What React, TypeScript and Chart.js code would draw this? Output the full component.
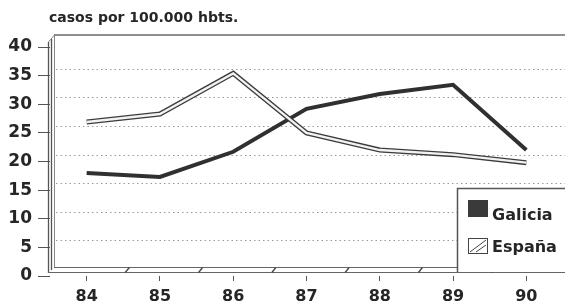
import React, { useEffect, useRef } from "react";
import { Chart, registerables } from "chart.js";

Chart.register(...registerables);

const years = ["84", "85", "86", "87", "88", "89", "90"];
const galicia = [18.0, 17.3, 21.7, 29.2, 31.8, 33.4, 22.0];
const espana = [26.9, 28.3, 35.4, 25.0, 22.0, 21.2, 19.8];
const yTicks = [0, 5, 10, 15, 20, 25, 30, 35, 40];
const titleText = "casos por 100.000 hbts.";
const legendLabels = ["Galicia", "España"];

const FONT = "'DejaVu Sans', 'Liberation Sans', sans-serif";
const INK = "#262626";

const decor = {
  id: "decor",
  beforeDraw(chart: any) {
    const ctx = chart.ctx;
    ctx.save();
    ctx.fillStyle = INK;
    ctx.font = `bold 14px ${FONT}`;
    ctx.textBaseline = "alphabetic";
    ctx.textAlign = "left";
    ctx.fillText(titleText, 49, 22);
    ctx.restore();
  },
  beforeDatasetsDraw(chart: any) {
    const ctx = chart.ctx;
    const ca = chart.chartArea;
    const ys = chart.scales.y;
    const W = chart.width;
    ctx.save();
    // dotted grid on back wall
    ctx.strokeStyle = "#9a9a9a";
    ctx.lineWidth = 1;
    ctx.setLineDash([1.5, 3]);
    for (const v of yTicks) {
      if (v === 0 || v === 40) continue;
      const y = Math.round(ys.getPixelForValue(v) - 7) + 0.5;
      ctx.beginPath();
      ctx.moveTo(56, y);
      ctx.lineTo(W, y);
      ctx.stroke();
    }
    ctx.setLineDash([]);
    // back wall top
    ctx.strokeStyle = "#6a6a6a";
    ctx.lineWidth = 1.5;
    ctx.beginPath();
    ctx.moveTo(54, 35);
    ctx.lineTo(W, 35);
    ctx.stroke();
    // left wall
    ctx.strokeStyle = "#555";
    ctx.lineWidth = 1.3;
    ctx.beginPath();
    ctx.moveTo(48.5, 42);
    ctx.lineTo(48.5, 273);
    ctx.moveTo(51.5, 39);
    ctx.lineTo(51.5, 270);
    ctx.stroke();
    ctx.strokeStyle = "#888";
    ctx.lineWidth = 1;
    ctx.beginPath();
    ctx.moveTo(54.5, 35);
    ctx.lineTo(54.5, 267);
    ctx.moveTo(48.5, 42);
    ctx.lineTo(54.5, 35);
    ctx.stroke();
    // floor
    ctx.strokeStyle = "#666";
    ctx.lineWidth = 1.2;
    ctx.beginPath();
    ctx.moveTo(54, 267.5);
    ctx.lineTo(W, 267.5);
    ctx.moveTo(48, 272.5);
    ctx.lineTo(W, 272.5);
    ctx.stroke();
    // floor separators
    const step = (ca.right - ca.left) / years.length;
    ctx.strokeStyle = "#444";
    ctx.lineWidth = 1.3;
    for (let i = 1; i < years.length; i++) {
      const b = ca.left + i * step;
      ctx.beginPath();
      ctx.moveTo(b + 2, 272.5);
      ctx.lineTo(b + 6, 267.5);
      ctx.stroke();
    }
    ctx.restore();
  },
  afterDatasetsDraw(chart: any) {
    const ctx = chart.ctx;
    const W = chart.width;
    ctx.save();
    // legend box
    ctx.fillStyle = "#ffffff";
    ctx.fillRect(457, 188, W - 457, 84);
    ctx.strokeStyle = "#555";
    ctx.lineWidth = 1.5;
    ctx.beginPath();
    ctx.moveTo(457.5, 272);
    ctx.lineTo(457.5, 188.5);
    ctx.lineTo(W, 188.5);
    ctx.stroke();
    // Galicia swatch
    ctx.fillStyle = "#3a3a3a";
    ctx.fillRect(468, 200, 20, 17);
    // España swatch (hatched)
    ctx.fillStyle = "#fff";
    ctx.fillRect(468, 238, 20, 16);
    ctx.strokeStyle = "#444";
    ctx.lineWidth = 1;
    ctx.strokeRect(468.5, 238.5, 19, 15);
    ctx.beginPath();
    ctx.moveTo(470, 252);
    ctx.lineTo(486, 240);
    ctx.moveTo(476, 252);
    ctx.lineTo(486, 245);
    ctx.stroke();
    ctx.fillStyle = INK;
    ctx.font = `bold 16px ${FONT}`;
    ctx.textAlign = "left";
    ctx.textBaseline = "alphabetic";
    ctx.fillText(legendLabels[0], 492, 220);
    ctx.fillText(legendLabels[1], 492, 252);
    ctx.restore();
  },
};

export default function App() {
  const ref = useRef<HTMLCanvasElement | null>(null);
  useEffect(() => {
    document.body.style.margin = "0";
    const canvas = ref.current;
    if (!canvas) return;
    const chart = new Chart(canvas, {
      type: "line",
      data: {
        labels: years,
        datasets: [
          {
            label: legendLabels[1] + " interior",
            data: espana,
            borderColor: "#f2f2f2",
            borderWidth: 2.4,
            pointRadius: 0,
            tension: 0,
            order: 0,
          },
          {
            label: legendLabels[1],
            data: espana,
            borderColor: "#3c3c3c",
            borderWidth: 5,
            pointRadius: 0,
            tension: 0,
            order: 1,
          },
          {
            label: legendLabels[0],
            data: galicia,
            borderColor: "#303030",
            borderWidth: 4,
            pointRadius: 0,
            tension: 0,
            order: 2,
          },
        ],
      },
      options: {
        responsive: false,
        animation: false,
        layout: { padding: { top: 47, right: 2, left: 0, bottom: 0 } },
        plugins: {
          legend: { display: false },
          tooltip: { enabled: false },
          title: { display: false },
        },
        scales: {
          x: {
            offset: true,
            border: { display: false },
            grid: {
              offset: false,
              drawOnChartArea: false,
              drawTicks: true,
              tickLength: 5,
              color: "#555",
            },
            ticks: {
              color: INK,
              padding: 6,
              maxRotation: 0,
              font: { family: FONT, size: 16, weight: "bold" },
            },
            afterFit(scale: any) {
              scale.height = 26;
            },
          },
          y: {
            min: 0,
            max: 40,
            border: { display: false },
            grid: {
              drawOnChartArea: false,
              drawTicks: true,
              tickLength: 12,
              color: "#555",
            },
            ticks: {
              stepSize: 5,
              color: INK,
              padding: 6,
              font: { family: FONT, size: 17, weight: "bold" },
            },
            afterFit(scale: any) {
              scale.width = 50;
            },
          },
        },
      },
      plugins: [decor],
    });
    return () => chart.destroy();
  }, []);
  return (
    <div style={{ position: "relative", width: 565, height: 302 }}>
      <canvas ref={ref} width={565} height={302} />
    </div>
  );
}
